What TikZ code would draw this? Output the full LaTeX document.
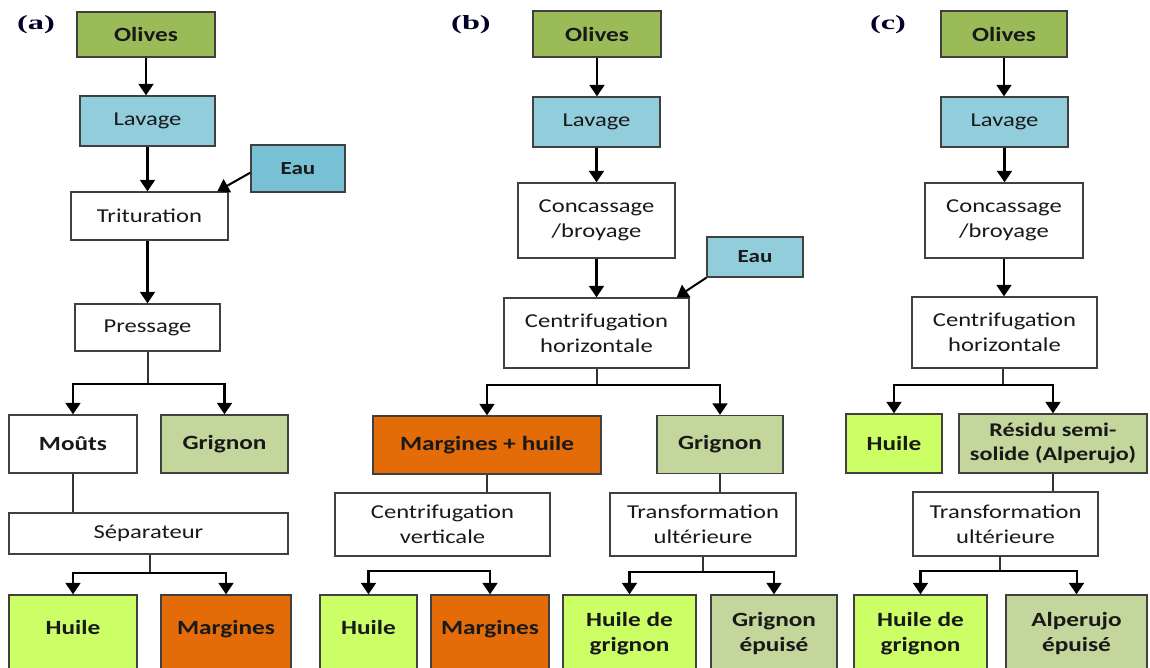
\documentclass[tikz,border=0pt]{standalone}
\usepackage{fontspec}
\setmainfont{Carlito}[FakeStretch=1.25]
\newfontfamily\labfont{Liberation Serif}[FakeStretch=1.6]
\usetikzlibrary{arrows.meta}

\definecolor{olivegreen}{HTML}{9BBB59}
\definecolor{washblue}{HTML}{92CDDC}
\definecolor{waterblue}{HTML}{78C0D4}
\definecolor{pomace}{HTML}{C3D69B}
\definecolor{oilgreen}{HTML}{CCFF66}
\definecolor{wastewater}{HTML}{E36C09}

\begin{document}
\begin{tikzpicture}[
  x=0.02cm, y=-0.02cm,
  box/.style={draw=black!75, line width=0.8pt, inner sep=1pt, align=center,
    text=black!90, font=\fontsize{11.2}{14.2}\selectfont},
  heavy/.style={font=\fontsize{11.5}{14.2}\selectfont\bfseries},
  minor/.style={font=\fontsize{10.5}{12}\selectfont\bfseries},
  sz/.style 2 args={minimum width=#1*0.02cm, minimum height=#2*0.02cm},
  flow/.style={draw=black, line width=1.15pt, -{Triangle[width=8.5pt,length=6.5pt]}},
  link/.style={draw=black!80, line width=0.8pt},
  panel/.style={font=\labfont\fontsize{11.5}{13}\selectfont\bfseries, text=black!85!blue}
]
  \clip (0,0) rectangle (1150,667);

  % (a) pressage
  \node[panel] (atag) at (36,25) {(a)};
  \node[box, heavy, fill=olivegreen, sz={138}{45}] (aoli) at (146,34.5) {Olives};
  \node[box, fill=washblue, sz={135}{50}] (alav) at (147.5,121) {Lavage};
  \node[box, minor, fill=waterblue, sz={94}{47}] (aeau) at (298,168.5) {Eau};
  \node[box, sz={157}{48}] (atri) at (149.5,216) {Trituration};
  \node[box, sz={145}{47}] (apre) at (147.5,327.5) {Pressage};
  \node[box, heavy, sz={128}{58}] (amou) at (73,444) {Moûts};
  \node[box, heavy, fill=pomace, sz={127}{58}] (agri) at (224.5,444) {Grignon};
  \node[box, sz={279}{41}] (asep) at (148.5,533.5) {Séparateur};
  \node[box, heavy, fill=oilgreen, sz={128}{77}, text depth=7pt] (ahui) at (73,633.5) {Huile};
  \node[box, heavy, fill=wastewater, sz={130}{77}, text depth=7pt] (amar) at (226,633.5) {Margines};
  \coordinate (aj1) at (148,384);
  \coordinate (aj2) at (150,573);

  \draw[flow] (aoli.south) -- (aoli.south |- alav.north);
  \draw[flow] (alav.south) -- (alav.south |- atri.north);
  \draw[flow] (aeau.185) -- (atri.20);
  \draw[flow] (apre.north |- atri.south) -- (apre.north);
  \draw[link] (apre.south -| aj1) -- (aj1);
  \draw[flow] (aj1) -| (amou.north);
  \draw[flow] (aj1) -| (agri.north);
  \draw[link] (amou.south) -- (amou.south |- asep.north);
  \draw[link] (asep.south -| aj2) -- (aj2);
  \draw[flow] (aj2) -| (ahui.north);
  \draw[flow] (aj2) -| (amar.north);

  % (b) deux phases
  \node[panel] (btag) at (471,25) {(b)};
  \node[box, heavy, fill=olivegreen, sz={128}{46}] (boli) at (597,34) {Olives};
  \node[box, fill=washblue, sz={127}{50}] (blav) at (596.5,122) {Lavage};
  \node[box, sz={157}{75}] (bcon) at (596.5,220.5) {Concassage\\/broyage};
  \node[box, minor, fill=washblue, sz={96}{40}] (beau) at (755,257) {Eau};
  \node[box, sz={185}{70}] (bcho) at (596.5,333) {Centrifugation\\horizontale};
  \node[box, heavy, fill=wastewater, sz={228}{58}] (bmh) at (487,445) {Margines + huile};
  \node[box, heavy, fill=pomace, sz={126}{58}] (bgri) at (720,444.5) {Grignon};
  \node[box, sz={215}{63}] (bcve) at (442.5,524.5) {Centrifugation\\verticale};
  \node[box, sz={186}{63}] (btra) at (703,524.5) {Transformation\\ultérieure};
  \node[box, heavy, fill=oilgreen, sz={97}{77}, text depth=7pt] (bhui) at (368.5,633.5) {Huile};
  \node[box, heavy, fill=wastewater, sz={118}{77}, text depth=7pt] (bmar) at (490,633.5) {Margines};
  \node[box, heavy, fill=oilgreen, sz={133}{77}] (bhgr) at (629.5,633.5) {Huile de\\grignon};
  \node[box, heavy, fill=pomace, sz={126}{77}] (bgep) at (774,633.5) {Grignon\\épuisé};
  \coordinate (bj1) at (597,385);
  \coordinate (bj2) at (430,571);
  \coordinate (bj3) at (703,572);

  \draw[flow] (boli.south) -- (boli.south |- blav.north);
  \draw[flow] (blav.south) -- (blav.south |- bcon.north);
  \draw[flow] (bcon.south) -- (bcon.south |- bcho.north);
  \draw[flow] (beau.south west) -- (bcho.24);
  \draw[link] (bcho.south -| bj1) -- (bj1);
  \draw[flow] (bj1) -| (bmh.north);
  \draw[flow] (bj1) -| (bgri.north);
  \draw[link] (bmh.south) -- (bmh.south |- bcve.north);
  \draw[link] (bgri.south) -- (bgri.south |- btra.north);
  \draw[flow] (bj2) -| (bhui.north);
  \draw[flow] (bj2) -| (bmar.north);
  \draw[link] (btra.south -| bj3) -- (bj3);
  \draw[flow] (bj3) -| (bhgr.north);
  \draw[flow] (bj3) -| (bgep.north);

  % (c) trois phases
  \node[panel] (ctag) at (888,25) {(c)};
  \node[box, heavy, fill=olivegreen, sz={126}{46}] (coli) at (1004,34) {Olives};
  \node[box, fill=washblue, sz={127}{50}] (clav) at (1004.5,122) {Lavage};
  \node[box, sz={158}{75}] (ccon) at (1004,220.5) {Concassage\\/broyage};
  \node[box, sz={185}{71}] (ccho) at (1004.5,332.5) {Centrifugation\\horizontale};
  \node[box, heavy, fill=oilgreen, sz={96}{59}] (chui) at (894,443.5) {Huile};
  \node[box, heavy, fill=pomace, sz={188}{59}, font=\fontsize{11}{13.5}\selectfont\bfseries] (cres) at (1053,443.5) {Résidu semi-\\solide (Alperujo)};
  \node[box, sz={185}{64}] (ctra) at (1005.5,524) {Transformation\\ultérieure};
  \node[box, heavy, fill=oilgreen, sz={133}{77}] (chgr) at (920.5,633.5) {Huile de\\grignon};
  \node[box, heavy, fill=pomace, sz={141}{77}] (caep) at (1076.5,633.5) {Alperujo\\épuisé};
  \coordinate (cj1) at (1003,385);
  \coordinate (cj2) at (1000,571);

  \draw[flow] (coli.south) -- (coli.south |- clav.north);
  \draw[flow] (clav.south) -- (clav.south |- ccon.north);
  \draw[flow] (ccon.south) -- (ccon.south |- ccho.north);
  \draw[link] (ccho.south -| cj1) -- (cj1);
  \draw[flow] (cj1) -| (chui.north);
  \draw[flow] (cj1) -| (cres.north);
  \draw[link] (cres.south) -- (cres.south |- ctra.north);
  \draw[link] (ctra.south -| cj2) -- (cj2);
  \draw[flow] (cj2) -| (chgr.north);
  \draw[flow] (cj2) -| (caep.north);
\end{tikzpicture}
\end{document}
